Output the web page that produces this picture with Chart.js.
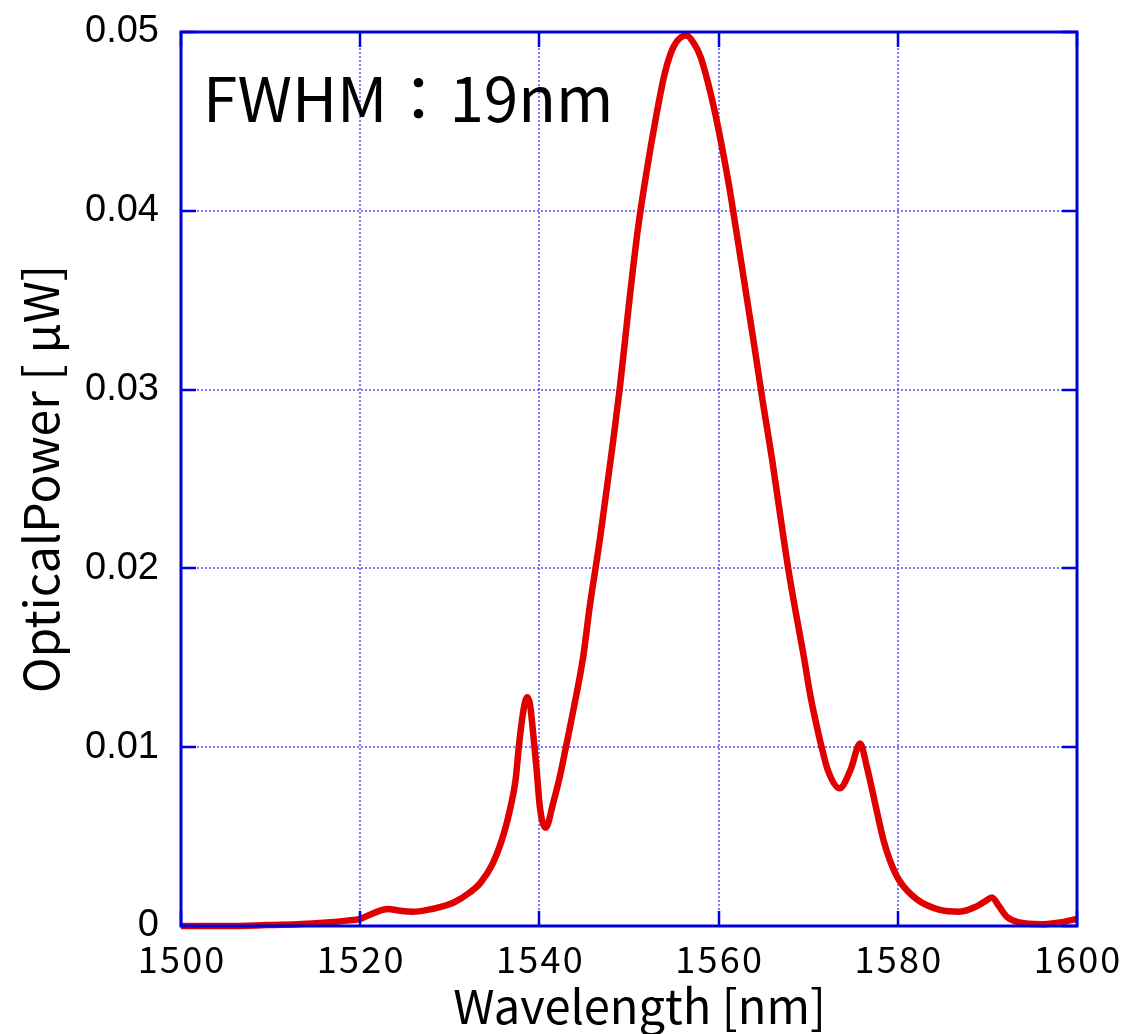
<!DOCTYPE html>
<html>
<head>
<meta charset="utf-8">
<script src="https://cdn.jsdelivr.net/npm/chart.js@4/dist/chart.umd.min.js"></script>
<style>
    html, body { margin: 0; padding: 0; background: #fff; }
    #wrap { width: 1127px; height: 1034px; position: relative; }
</style>
</head>
<body>
<div id="wrap"><canvas id="spectrumChart"></canvas></div>
<script>
// wavelength in nm
const wavelengths = [
    1500, 1505, 1509.6, 1513, 1516.3, 1518.5, 1520, 1521.4, 1523.1, 1524.5,
    1525.9, 1527.5, 1529.2, 1530.4, 1532.3, 1533.4, 1534.8, 1536.05, 1536.8, 1537.35,
    1537.7, 1538.0, 1538.3, 1538.65, 1538.95, 1539.3, 1539.7, 1540.0, 1540.3, 1540.7,
    1541.55, 1542.3, 1543.0, 1543.8, 1544.9, 1545.6, 1546.8, 1547.5, 1548.2, 1549.0,
    1550.0, 1551.0, 1552.0, 1553.0, 1554.0, 1555.0, 1556.4, 1557.2, 1558.0, 1558.8,
    1559.6, 1560.4, 1561.2, 1562.0, 1563.0, 1564.0, 1565.0, 1566.0, 1566.9, 1567.8,
    1568.7, 1569.5, 1570.2, 1570.9, 1571.5, 1572.2, 1573.5, 1574.7, 1575.8, 1576.5,
    1577.1, 1577.8, 1578.4, 1579.1, 1580.1, 1582.1, 1584.7, 1586.9, 1588.8, 1589.8,
    1590.5, 1591.3, 1592.2, 1593.6, 1596, 1598.1, 1600
];

// optical power in uW
const powers = [
    0, 0, 0.00005, 0.0001, 0.0002, 0.0003, 0.0004, 0.0007, 0.00095, 0.00085,
    0.0008, 0.0009, 0.0011, 0.0013, 0.0019, 0.0024, 0.0035, 0.0052, 0.0067, 0.0082,
    0.0100, 0.0113, 0.0123, 0.0128, 0.0124, 0.0108, 0.0087, 0.0069, 0.0059, 0.0055,
    0.0069, 0.0084, 0.0101, 0.0121, 0.0151, 0.0178, 0.0218, 0.0244, 0.0270, 0.0302,
    0.0348, 0.0390, 0.0423, 0.0452, 0.0477, 0.0492, 0.0498, 0.0494, 0.0486, 0.0472,
    0.0455, 0.0435, 0.0413, 0.0388, 0.0356, 0.0324, 0.0291, 0.0260, 0.0229, 0.0199,
    0.0173, 0.0151, 0.0130, 0.0113, 0.0100, 0.0087, 0.0077, 0.0087, 0.0102, 0.0090,
    0.0077, 0.0061, 0.0048, 0.0037, 0.0026, 0.0015, 0.0009, 0.0008, 0.0011, 0.0014,
    0.0016, 0.0011, 0.0005, 0.0002, 0.0001, 0.0002, 0.0004
];

const xTicks = [1500, 1520, 1540, 1560, 1580, 1600];
const yTicks = [0, 0.01, 0.02, 0.03, 0.04, 0.05];
const yTickLabels = ["0", "0.01", "0.02", "0.03", "0.04", "0.05"];

const BLUE = "#0000dd";
const RED = "#e00000";
const GRID = "rgba(80,80,250,0.75)";
const JP_FONT = "'Noto Sans CJK JP', 'Noto Sans', sans-serif";

// gnuplot-like short tick marks drawn inside the frame (and mirrored)
const innerTicks = {
    id: "innerTicks",
    afterDatasetsDraw(chart) {
        const { ctx, chartArea: a, scales } = chart;
        const len = 15;
        ctx.save();
        ctx.strokeStyle = BLUE;
        ctx.lineWidth = 2.5;
        ctx.beginPath();
        xTicks.forEach((v) => {
            const px = Math.round(scales.x.getPixelForValue(v));
            ctx.moveTo(px, a.bottom); ctx.lineTo(px, a.bottom - len);
            ctx.moveTo(px, a.top); ctx.lineTo(px, a.top + len);
        });
        yTicks.forEach((v) => {
            const py = Math.round(scales.y.getPixelForValue(v));
            ctx.moveTo(a.left, py); ctx.lineTo(a.left + len, py);
            ctx.moveTo(a.right, py); ctx.lineTo(a.right - len, py);
        });
        ctx.stroke();
        ctx.lineWidth = 3;
        ctx.strokeRect(a.left, a.top, a.right - a.left, a.bottom - a.top);
        ctx.restore();
    },
};

// the FWHM note in the upper-left corner of the plot
const fwhmLabel = {
    id: "fwhmLabel",
    afterDraw(chart) {
        const { ctx, chartArea: a } = chart;
        ctx.save();
        ctx.fillStyle = "#000";
        ctx.font = "62px " + JP_FONT;
        ctx.textBaseline = "middle";
        ctx.fillText("FWHM：19nm", a.left + 22, a.top + 66);
        ctx.restore();
    },
};

const points = wavelengths.map((w, i) => ({ x: w, y: powers[i] }));

new Chart(document.getElementById("spectrumChart"), {
    type: "line",
    data: {
        datasets: [
            {
                label: "Optical power",
                data: points,
                borderColor: RED,
                backgroundColor: RED,
                borderWidth: 6.5,
                pointRadius: 0,
                tension: 0.4,
                cubicInterpolationMode: "monotone",
                clip: false,
            },
        ],
    },
    options: {
        responsive: true,
        maintainAspectRatio: false,
        animation: false,
        layout: { autoPadding: false, padding: { top: 32, right: 50, left: 0, bottom: 0 } },
        plugins: {
            legend: { display: false },
            tooltip: { enabled: false },
        },
        scales: {
            x: {
                type: "linear",
                min: 1500,
                max: 1600,
                afterBuildTicks: (scale) => { scale.ticks = xTicks.map((v) => ({ value: v })); },
                afterFit: (scale) => {
                    scale.height = 108;
                    scale.paddingLeft = 0;
                    scale.paddingRight = 0;
                },
                grid: {
                    color: GRID,
                    lineWidth: 2,
                    drawTicks: false,
                },
                border: { display: false, dash: [2, 2] },
                ticks: {
                    color: "#000",
                    padding: 12,
                    maxRotation: 0,
                    font: { family: JP_FONT, size: 36 },
                    callback: (v) => String(v).split("").join("\u200A"),
                },
                title: {
                    display: true,
                    text: "  Wavelength [nm]",
                    color: "#000",
                    padding: { top: -8, bottom: 0 },
                    font: { family: JP_FONT, size: 47 },
                },
            },
            y: {
                min: 0,
                max: 0.05,
                afterBuildTicks: (scale) => { scale.ticks = yTicks.map((v) => ({ value: v })); },
                afterFit: (scale) => {
                    scale.width = 181;
                    scale.paddingTop = 0;
                    scale.paddingBottom = 0;
                },
                grid: {
                    color: GRID,
                    lineWidth: 2,
                    drawTicks: false,
                },
                border: { display: false, dash: [2, 2] },
                ticks: {
                    color: "#000",
                    padding: 22,
                    font: { family: "'Liberation Sans', Arial, sans-serif", size: 38 },
                    callback: (v) => yTickLabels[yTicks.indexOf(v)],
                },
                title: {
                    display: true,
                    text: "OpticalPower [ μW]",
                    color: "#000",
                    padding: { top: 12, bottom: 0 },
                    font: { family: JP_FONT, size: 48 },
                },
            },
        },
    },
    plugins: [innerTicks, fwhmLabel],
});
</script>
</body>
</html>
